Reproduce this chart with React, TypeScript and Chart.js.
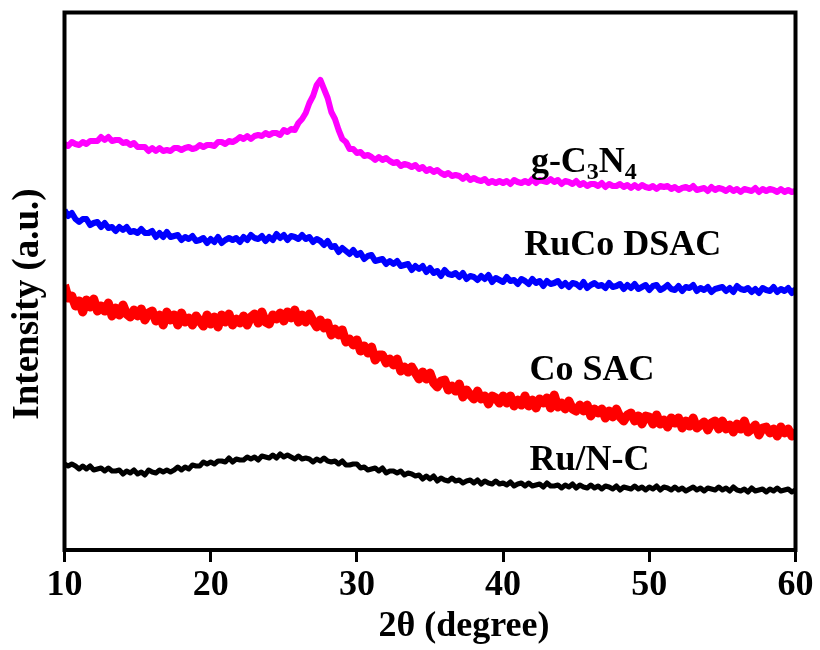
import React, { useEffect, useRef } from "react";
import { Chart, registerables } from "chart.js";

Chart.register(...registerables);

const FAMILY = '"Liberation Serif", "Times New Roman", serif';

// 2θ values (degree)
const ANGLES = [
  10, 10.25, 10.5, 10.75, 11, 11.25, 11.5, 11.75, 12, 12.25, 12.5, 12.75, 13, 13.25, 13.5, 13.75, 14, 14.25, 14.5, 14.75,
  15, 15.25, 15.5, 15.75, 16, 16.25, 16.5, 16.75, 17, 17.25, 17.5, 17.75, 18, 18.25, 18.5, 18.75, 19, 19.25, 19.5, 19.75,
  20, 20.25, 20.5, 20.75, 21, 21.25, 21.5, 21.75, 22, 22.25, 22.5, 22.75, 23, 23.25, 23.5, 23.75, 24, 24.25, 24.5, 24.75,
  25, 25.25, 25.5, 25.75, 26, 26.25, 26.5, 26.75, 27, 27.25, 27.5, 27.75, 28, 28.25, 28.5, 28.75, 29, 29.25, 29.5, 29.75,
  30, 30.25, 30.5, 30.75, 31, 31.25, 31.5, 31.75, 32, 32.25, 32.5, 32.75, 33, 33.25, 33.5, 33.75, 34, 34.25, 34.5, 34.75,
  35, 35.25, 35.5, 35.75, 36, 36.25, 36.5, 36.75, 37, 37.25, 37.5, 37.75, 38, 38.25, 38.5, 38.75, 39, 39.25, 39.5, 39.75,
  40, 40.25, 40.5, 40.75, 41, 41.25, 41.5, 41.75, 42, 42.25, 42.5, 42.75, 43, 43.25, 43.5, 43.75, 44, 44.25, 44.5, 44.75,
  45, 45.25, 45.5, 45.75, 46, 46.25, 46.5, 46.75, 47, 47.25, 47.5, 47.75, 48, 48.25, 48.5, 48.75, 49, 49.25, 49.5, 49.75,
  50, 50.25, 50.5, 50.75, 51, 51.25, 51.5, 51.75, 52, 52.25, 52.5, 52.75, 53, 53.25, 53.5, 53.75, 54, 54.25, 54.5, 54.75,
  55, 55.25, 55.5, 55.75, 56, 56.25, 56.5, 56.75, 57, 57.25, 57.5, 57.75, 58, 58.25, 58.5, 58.75, 59, 59.25, 59.5, 59.75,
  60,
];

// Intensity (a.u., vertically offset traces)
const RU_NC = [
  84, 82, 84, 82, 79, 82, 79, 82, 78, 79, 80, 77, 80, 77, 77, 78, 74, 77, 75, 78,
  74, 76, 73, 78, 76, 75, 78, 76, 78, 76, 78, 81, 78, 81, 79, 83, 82, 82, 86, 84,
  86, 84, 87, 87, 86, 90, 86, 89, 88, 88, 91, 89, 91, 88, 92, 91, 90, 93, 90, 94,
  91, 93, 91, 89, 92, 89, 90, 89, 86, 89, 87, 90, 87, 86, 87, 84, 87, 83, 83, 84,
  84, 80, 81, 78, 79, 80, 77, 80, 75, 77, 77, 75, 77, 73, 75, 74, 72, 73, 69, 72,
  69, 72, 67, 70, 68, 67, 70, 67, 68, 65, 67, 68, 65, 68, 64, 67, 65, 64, 67, 64,
  65, 63, 66, 62, 64, 65, 62, 65, 62, 63, 64, 61, 65, 62, 62, 63, 60, 63, 61, 64,
  60, 63, 61, 60, 63, 60, 62, 59, 62, 61, 59, 62, 58, 61, 60, 59, 62, 59, 61, 58,
  61, 59, 62, 58, 61, 60, 58, 61, 58, 60, 57, 59, 61, 58, 60, 57, 60, 59, 58, 61,
  58, 60, 57, 61, 58, 57, 59, 56, 60, 57, 58, 59, 56, 59, 57, 60, 57, 58, 59, 56,
  58,
];

const CO_SAC = [
  263, 250, 252, 242, 247, 236, 248, 241, 249, 237, 242, 237, 245, 232, 240, 233, 243, 234, 231, 238,
  232, 239, 228, 235, 237, 227, 233, 223, 236, 228, 233, 223, 235, 226, 230, 223, 232, 227, 222, 233,
  224, 231, 221, 233, 226, 234, 223, 229, 225, 232, 223, 231, 234, 225, 236, 226, 224, 233, 229, 235,
  227, 236, 230, 238, 226, 233, 226, 234, 227, 221, 228, 220, 225, 213, 219, 213, 218, 206, 209, 203,
  208, 197, 202, 195, 201, 188, 193, 193, 185, 189, 183, 189, 177, 181, 176, 181, 175, 169, 176, 169,
  175, 165, 161, 167, 168, 158, 162, 157, 164, 151, 158, 153, 149, 157, 149, 152, 144, 152, 150, 145,
  152, 145, 152, 142, 148, 143, 152, 142, 148, 140, 149, 145, 150, 140, 153, 141, 145, 139, 147, 139,
  137, 143, 137, 143, 132, 139, 135, 139, 130, 137, 131, 139, 131, 127, 133, 135, 127, 132, 124, 132,
  131, 124, 133, 124, 128, 121, 130, 125, 130, 120, 127, 122, 130, 120, 123, 126, 118, 125, 127, 119,
  127, 119, 123, 116, 124, 119, 127, 116, 119, 123, 113, 120, 121, 115, 119, 112, 121, 115, 119, 112,
  118,
];

const RUCO_DSAC = [
  338, 332, 335, 329, 326, 329, 329, 323, 325, 326, 321, 325, 320, 321, 317, 321, 318, 321, 316, 317,
  315, 319, 315, 315, 317, 311, 315, 311, 316, 311, 312, 313, 308, 311, 309, 312, 307, 308, 310, 305,
  309, 306, 311, 305, 308, 310, 308, 310, 306, 311, 308, 313, 310, 309, 312, 307, 311, 308, 314, 310,
  313, 308, 312, 311, 309, 313, 309, 311, 306, 309, 307, 303, 307, 301, 302, 296, 300, 297, 294, 298,
  293, 295, 289, 292, 293, 287, 288, 289, 284, 287, 284, 287, 282, 283, 284, 278, 282, 279, 282, 276,
  280, 275, 277, 272, 278, 274, 273, 275, 271, 275, 269, 272, 271, 268, 272, 269, 273, 266, 270, 268,
  266, 271, 267, 268, 264, 269, 267, 264, 269, 265, 267, 262, 267, 264, 265, 267, 262, 265, 261, 265,
  264, 261, 266, 260, 263, 265, 262, 263, 260, 265, 261, 262, 264, 259, 263, 260, 264, 259, 261, 263,
  258, 262, 263, 258, 260, 263, 259, 258, 262, 257, 261, 260, 263, 257, 260, 258, 261, 256, 259, 260,
  261, 257, 260, 256, 262, 259, 258, 260, 256, 259, 255, 260, 258, 257, 261, 256, 259, 257, 260, 255,
  259,
];

const G_C3N4 = [
  404, 402, 406, 404, 403, 406, 404, 407, 407, 407, 411, 408, 411, 407, 408, 408, 405, 406, 403, 405,
  401, 401, 401, 397, 400, 397, 400, 397, 398, 397, 400, 400, 398, 400, 401, 399, 400, 403, 401, 403,
  403, 402, 406, 406, 404, 407, 406, 408, 411, 409, 412, 409, 412, 413, 412, 415, 413, 415, 415, 413,
  418, 416, 419, 418, 425, 429, 435, 445, 452, 463, 468, 459, 450, 436, 429, 418, 409, 406, 399, 399,
  395, 396, 392, 393, 391, 388, 391, 388, 390, 387, 385, 386, 382, 384, 383, 381, 383, 379, 381, 377,
  379, 376, 378, 375, 373, 375, 372, 373, 372, 369, 372, 368, 370, 368, 367, 369, 365, 367, 365, 367,
  365, 367, 364, 368, 366, 365, 367, 365, 369, 365, 368, 367, 366, 369, 366, 368, 364, 367, 366, 364,
  367, 363, 365, 362, 364, 364, 362, 365, 361, 364, 362, 362, 364, 361, 363, 360, 363, 360, 363, 361,
  360, 362, 359, 362, 361, 362, 359, 361, 358, 360, 361, 359, 362, 358, 359, 360, 357, 361, 358, 360,
  359, 357, 360, 357, 359, 356, 359, 358, 357, 360, 356, 359, 357, 359, 358, 356, 359, 356, 358, 356,
  357,
];

const X_TICKS = [10, 20, 30, 40, 50, 60];
const X_TITLE = "2θ (degree)";
const Y_TITLE = "Intensity (a.u.)";

const SERIES = [
  { name: "Ru/N-C", values: RU_NC, color: "#000000", width: 5 },
  { name: "Co SAC", values: CO_SAC, color: "#ff0000", width: 9 },
  { name: "RuCo DSAC", values: RUCO_DSAC, color: "#0000ff", width: 6 },
  { name: "g-C3N4", values: G_C3N4, color: "#ff00ff", width: 6 },
];

// Text labels next to traces: [text, isSubscript]
const TRACE_LABELS: { parts: [string, boolean][]; x: number; y: number }[] = [
  { parts: [["g-C", false], ["3", true], ["N", false], ["4", true]], x: 41.9, y: 376 },
  { parts: [["RuCo DSAC", false]], x: 41.45, y: 293 },
  { parts: [["Co SAC", false]], x: 41.8, y: 168 },
  { parts: [["Ru/N-C", false]], x: 41.8, y: 78 },
];

const decorPlugin = {
  id: "decor",
  afterDatasetsDraw(chart: any) {
    const { ctx, chartArea: a, scales } = chart;
    ctx.save();
    ctx.strokeStyle = "#000";
    ctx.lineWidth = 4;
    ctx.strokeRect(a.left, a.top, a.right - a.left, a.bottom - a.top);

    ctx.fillStyle = "#000";
    ctx.textAlign = "left";
    ctx.textBaseline = "alphabetic";
    for (const lab of TRACE_LABELS) {
      let x = scales.x.getPixelForValue(lab.x);
      const y = scales.y.getPixelForValue(lab.y);
      for (const [t, sub] of lab.parts) {
        ctx.font = sub ? `bold 24px ${FAMILY}` : `bold 36px ${FAMILY}`;
        ctx.fillText(t, x, y + (sub ? 7 : 0));
        x += ctx.measureText(t).width;
      }
    }

    ctx.textAlign = "center";
    ctx.font = `bold 36px ${FAMILY}`;
    ctx.fillText(X_TITLE, 464, 636);

    ctx.translate(38, 304);
    ctx.rotate(-Math.PI / 2);
    ctx.font = `bold 37px ${FAMILY}`;
    ctx.fillText(Y_TITLE, 0, 0);
    ctx.restore();
  },
};

export default function App() {
  const ref = useRef<HTMLCanvasElement>(null);

  useEffect(() => {
    if (!ref.current) return;
    const chart = new Chart(ref.current, {
      type: "line",
      data: {
        datasets: SERIES.map((s) => ({
          label: s.name,
          data: ANGLES.map((a, i) => ({ x: a, y: s.values[i] })),
          borderColor: s.color,
          backgroundColor: s.color,
          borderWidth: s.width,
          pointRadius: 0,
          tension: 0,
          borderJoinStyle: "round",
          clip: 0,
        })),
      },
      options: {
        animation: false,
        responsive: false,
        layout: { padding: { top: 12.5, right: 24.5, left: 0, bottom: 0 } },
        plugins: { legend: { display: false }, tooltip: { enabled: false } },
        scales: {
          x: {
            type: "linear",
            min: 10,
            max: 60,
            afterBuildTicks: (s: any) => {
              s.ticks = X_TICKS.map((v) => ({ value: v }));
            },
            afterFit: (s: any) => {
              s.height = 100;
            },
            ticks: {
              color: "#000",
              padding: 2,
              font: { family: FAMILY, size: 36, weight: "bold" },
            },
            grid: {
              display: true,
              drawOnChartArea: false,
              drawTicks: true,
              tickLength: 12,
              lineWidth: 3,
              color: "#000",
            },
            border: { display: false },
          },
          y: {
            type: "linear",
            min: -2,
            max: 535.5,
            afterFit: (s: any) => {
              s.width = 64.5;
            },
            ticks: { display: false },
            grid: { display: false, drawTicks: false },
            border: { display: false },
          },
        },
      },
      plugins: [decorPlugin],
    });
    return () => chart.destroy();
  }, []);

  return (
    <div style={{ position: "absolute", left: 0, top: 0, width: 820, height: 650, background: "#fff" }}>
      <canvas ref={ref} width={820} height={650} style={{ display: "block", width: 820, height: 650 }} />
    </div>
  );
}
